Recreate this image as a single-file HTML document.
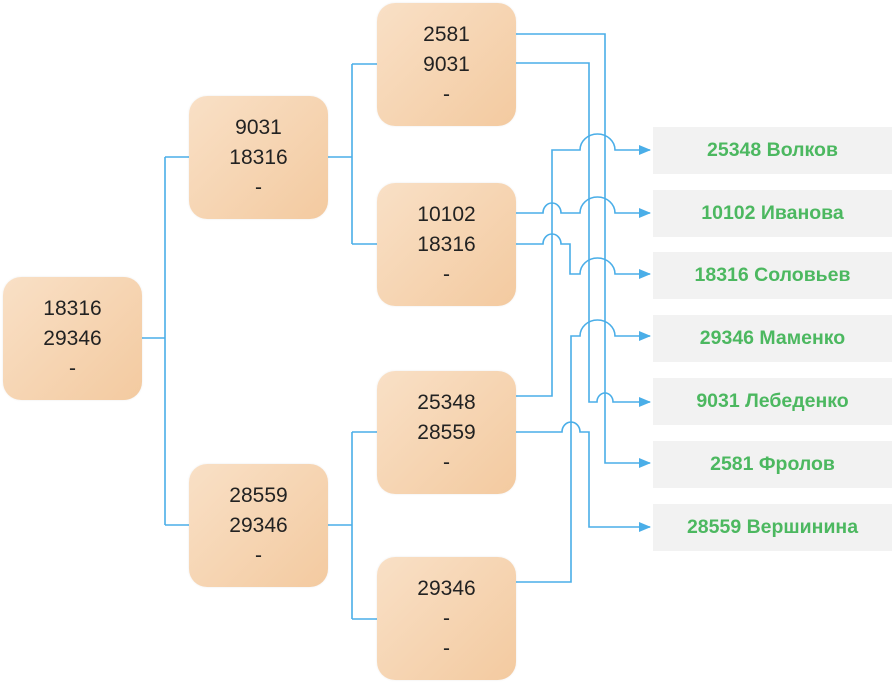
<!DOCTYPE html>
<html><head><meta charset="utf-8"><style>
body{margin:0;width:894px;height:685px;background:#fff;position:relative;overflow:hidden;font-family:"Liberation Sans",Arial,sans-serif}
.b{position:absolute;width:139px;height:123px;border-radius:18px;background:linear-gradient(135deg,#f9e0c6,#f3caa0);box-shadow:0 0 2px rgba(0,0,0,0.08);text-align:center;font-size:21px;color:#222;line-height:30px;box-sizing:border-box;padding-top:17px}
.l{position:absolute;left:653px;width:239px;height:47px;background:#f2f2f2;color:#4cb860;font-weight:bold;font-size:19.5px;line-height:47px;text-align:center}
svg{position:absolute;left:0;top:0}
</style></head><body>
<svg width="894" height="685" fill="none" stroke="#4aaee8" stroke-width="1.6">
<defs><marker id="a" markerWidth="12" markerHeight="10" refX="11" refY="5" orient="auto" markerUnits="userSpaceOnUse"><path d="M0,0 L12,5 L0,10 Z" fill="#4aaee8" stroke="none"/></marker></defs>
<path d="M142,338H165M165,157V525M165,157H189M165,525H189"/>
<path d="M328,157H352M352,64V244M352,64H377M352,244H377"/>
<path d="M328,525H352M352,432V619M352,432H377M352,619H377"/>
<path d="M516,34H605V463H650" marker-end="url(#a)"/>
<path d="M516,63H589V402H597A8 9 0 0 1 613 402H650" marker-end="url(#a)"/>
<path d="M516,213H543A9 10 0 0 1 561 213H580A17.5 16 0 0 1 615 213H650" marker-end="url(#a)"/>
<path d="M516,244H543A9 10 0 0 1 561 244H570V274H580A17.5 16 0 0 1 615 274H650" marker-end="url(#a)"/>
<path d="M516,396H552V150H580A17.5 16 0 0 1 615 150H650" marker-end="url(#a)"/>
<path d="M516,432H562A9 10 0 0 1 580 432H589V527H650" marker-end="url(#a)"/>
<path d="M516,582H571V336H580A17.5 16 0 0 1 615 336H650" marker-end="url(#a)"/>
</svg>
<div class="b" style="left:3px;top:277px">18316<br>29346<br>-</div>
<div class="b" style="left:189px;top:96px">9031<br>18316<br>-</div>
<div class="b" style="left:189px;top:464px">28559<br>29346<br>-</div>
<div class="b" style="left:377px;top:3px">2581<br>9031<br>-</div>
<div class="b" style="left:377px;top:183px">10102<br>18316<br>-</div>
<div class="b" style="left:377px;top:371px">25348<br>28559<br>-</div>
<div class="b" style="left:377px;top:557px">29346<br>-<br>-</div>
<div class="l" style="top:127px">25348 Волков</div>
<div class="l" style="top:190px">10102 Иванова</div>
<div class="l" style="top:252px">18316 Соловьев</div>
<div class="l" style="top:315px">29346 Маменко</div>
<div class="l" style="top:378px">9031 Лебеденко</div>
<div class="l" style="top:441px">2581 Фролов</div>
<div class="l" style="top:504px">28559 Вершинина</div>
</body></html>
